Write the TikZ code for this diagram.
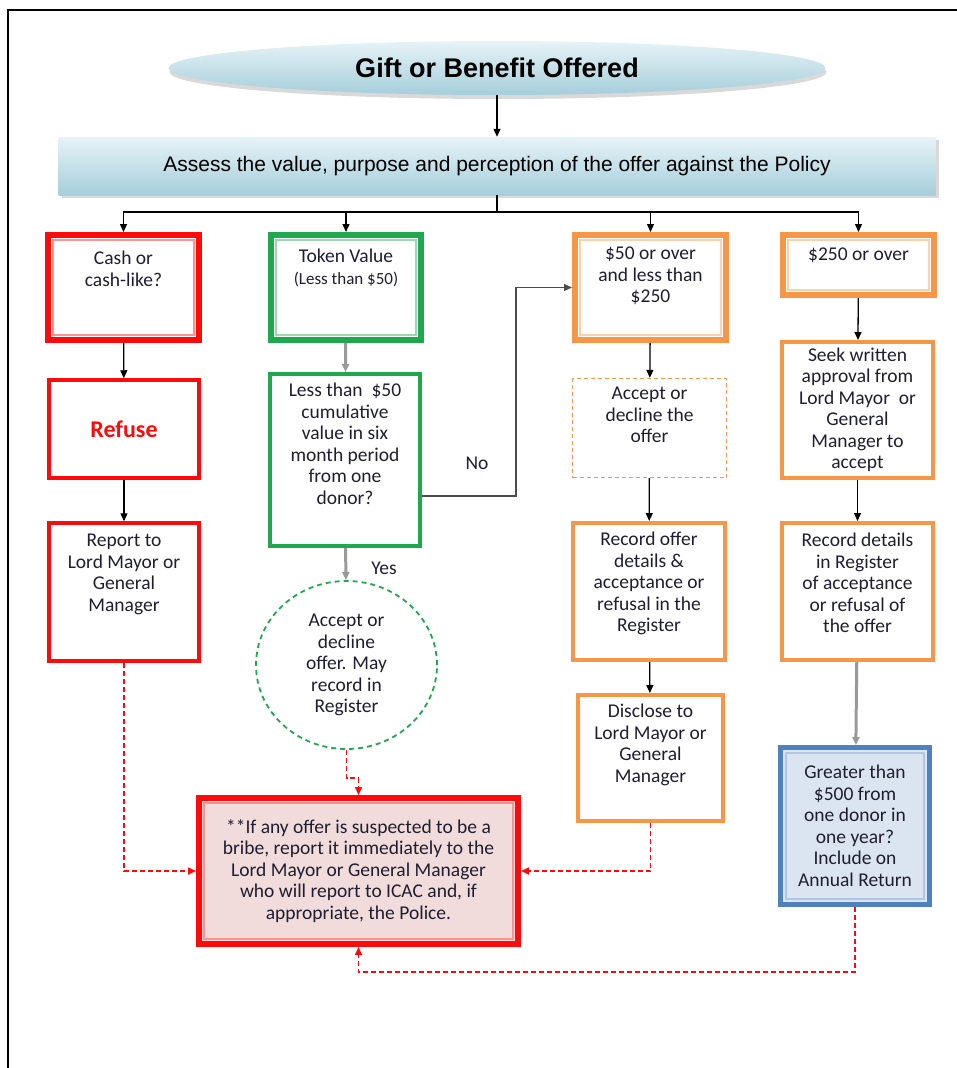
\documentclass[tikz,border=0pt]{standalone}
\usepackage{fontspec}
\setmainfont{Carlito}
\newfontfamily\arialfont{Liberation Sans}
\usetikzlibrary{arrows.meta,shapes.geometric,shadows}
\definecolor{boxred}{HTML}{FF0A0A}
\definecolor{boxgreen}{HTML}{1FA84E}
\definecolor{boxorange}{HTML}{F79646}
\definecolor{boxblue}{HTML}{4F81BD}
\definecolor{fillblue}{HTML}{DBE5F1}
\definecolor{fillpink}{HTML}{F2DCDB}
\definecolor{skytop}{HTML}{E6F3F7}
\definecolor{skybot}{HTML}{A6CEDB}
\definecolor{ink}{HTML}{1E1E30}
\tikzset{
  boxtext/.style={align=center, text=ink, font=\fontsize{19.5}{21.5}\selectfont, inner sep=0pt},
  box/.style={draw=#1, rectangle, line width=4pt, boxtext, inner sep=4pt},
  conn/.style={-{Triangle[length=8pt,width=7pt]}, line width=1.3pt, black},
  grayconn/.style={conn, draw=black!40, line width=3pt},
  dasharr/.style={-{Triangle[length=8pt,width=7pt]}, draw=boxred, line width=1.6pt,
    dash pattern=on 5pt off 3pt},
}
\begin{document}
\begin{tikzpicture}[x=1pt, y=-1pt]
    \useasboundingbox (0,0) rectangle (957,1068);
    \draw[line width=2.5pt] (8,1068) -- (8,10) -- (957,10);

    % top of the chart
    \node[ellipse, minimum width=657pt, minimum height=54pt, top color=skytop, bottom color=skybot,
      drop shadow={shadow xshift=1pt, shadow yshift=-4pt, opacity=0.3},
      font=\arialfont\bfseries\fontsize{27}{30}\selectfont] (gift) at (497,68) {Gift or Benefit Offered};
    \node[rectangle, minimum width=877pt, minimum height=58pt, top color=skytop, bottom color=skybot,
      drop shadow={shadow xshift=3pt, shadow yshift=-3pt, opacity=0.3},
      font=\arialfont\fontsize{21}{24}\selectfont] (assess) at (497,166)
      {Assess the value, purpose and perception of the offer against the Policy};
    \coordinate (split) at (497,212);

    % cash column
    \node[box=boxred, line width=6pt, minimum width=151pt, minimum height=105pt,
      label={[boxtext, anchor=north, yshift=-19pt]north:{Cash or\\cash-like?}}] (cash) at (123.5,287.5) {};
    \node[box=boxred, line width=3.5pt, minimum width=150pt, minimum height=98pt,
      font=\bfseries\fontsize{24}{26}\selectfont, text=boxred] (refuse) at (124,429) {Refuse};
    \node[box=boxred, line width=3.5pt, minimum width=150pt, minimum height=138pt,
      label={[boxtext, anchor=north, yshift=-13pt]north:{Report to\\Lord Mayor or\\General\\Manager}}] (report) at (124,592) {};

    % token column
    \node[box=boxgreen, line width=6pt, minimum width=150pt, minimum height=105pt,
      label={[boxtext, anchor=north, yshift=-17pt]north:{Token Value\\{\fontsize{17}{20}\selectfont(Less than \$50)}}}] (token) at (346,287.5) {};
    \node[box=boxgreen, minimum width=150pt, minimum height=172pt,
      label={[boxtext, anchor=north, yshift=-11pt]north:{Less than\ \ \$50\\cumulative\\value in six\\month period\\from one\\donor?}}] (less) at (345,460) {};
    \node[ellipse, draw=boxgreen, dashed, line width=1.8pt, dash pattern=on 5pt off 4pt,
      minimum width=181pt, minimum height=168pt, boxtext] (circ) at (346.5,665)
      {Accept or\\decline\\offer. May\\record in\\Register};

    % 50 to 250 column
    \node[box=boxorange, line width=6pt, minimum width=151pt, minimum height=105pt,
      label={[boxtext, anchor=north, yshift=-15pt]north:{\$50 or over\\and less than\\\$250}}] (fifty) at (650.5,287.5) {};
    \node[box=boxorange, line width=1.3pt, dash pattern=on 4pt off 3pt, minimum width=154pt, minimum height=99pt,
      label={[boxtext, anchor=north, yshift=-9pt]north:{Accept or\\decline the\\offer}}] (accept) at (649.5,428) {};
    \node[box=boxorange, minimum width=152pt, minimum height=137pt,
      label={[boxtext, anchor=north, yshift=-11pt]north:{Record offer\\details \&\\acceptance or\\refusal in the\\Register}}] (recoff) at (649,591.5) {};
    \node[box=boxorange, minimum width=145pt, minimum height=126pt,
      label={[boxtext, anchor=north, yshift=-11pt]north:{Disclose to\\Lord Mayor or\\General\\Manager}}] (disclose) at (650.5,758) {};

    % 250 and over column
    \node[box=boxorange, line width=6pt, minimum width=151pt, minimum height=60pt,
      label={[boxtext, anchor=north, yshift=-16pt]north:{\$250 or over}}] (twofifty) at (858.5,265) {};
    \node[box=boxorange, minimum width=151pt, minimum height=136pt] (seek) at (857.5,410)
      {Seek written\\approval from\\Lord Mayor\ \ or\\General\\Manager to\\accept};
    \node[box=boxorange, minimum width=151pt, minimum height=137pt,
      label={[boxtext, anchor=north, yshift=-12pt]north:{Record details\\in Register\\of acceptance\\or refusal of\\the offer}}] (recdet) at (857.5,591.5) {};
    \node[box=boxblue, line width=5pt, fill=fillblue, minimum width=149pt, minimum height=157pt] (greater) at (855,826)
      {Greater than\\\$500 from\\one donor in\\one year?\\Include on\\Annual Return};

    % bribe box
    \node[box=boxred, line width=6pt, fill=fillpink, minimum width=319pt, minimum height=146pt] (bribe) at (358.5,871)
      {**If any offer is suspected to be a\\bribe, report it immediately to the\\Lord Mayor or General Manager\\who will report to ICAC and, if\\appropriate, the Police.};

    % inner lines of the double boxes
    \foreach \n/\c in {cash/boxred, token/boxgreen, fifty/boxorange, twofifty/boxorange, greater/boxblue, bribe/boxred}
      \draw[\c!45, line width=1.8pt] ([shift={(8pt,-8pt)}]\n.north west) rectangle ([shift={(-8pt,8pt)}]\n.south east);

    % connectors
    \draw[conn] (gift) -- (assess);
    \draw[line width=2pt] (assess.south) -- (split);
    \foreach \n in {cash,token,fifty,twofifty}
      \draw[conn] (split) -| (\n.north);
    \draw[conn] (cash) -- (refuse);
    \draw[conn] (refuse) -- (report);
    \draw[grayconn] (token) -- (less);
    \draw[grayconn] (less) -- (circ);
    \node[boxtext] (yes) at (384,568) {Yes};
    \coordinate (nobend) at (516,496);
    \draw[conn, draw=black!70] (less.east |- nobend) -- (nobend) |- (fifty.west);
    \node[boxtext] (no) at (477,463) {No};
    \draw[conn] (fifty) -- (accept);
    \draw[conn] (accept) -- (recoff);
    \draw[conn] (recoff) -- (disclose);
    \draw[conn] (twofifty) -- (seek);
    \draw[conn] (seek) -- (recdet);
    \draw[grayconn] (recdet) -- (greater);

    % dashed report lines
    \coordinate (jog) at (346.5,778);
    \coordinate (back) at (855,972);
    \draw[dasharr] (report.south) |- (bribe.west);
    \draw[dasharr] (circ.south) -- (jog) -| (bribe.north);
    \draw[dasharr] (disclose.south) |- (bribe.east);
    \draw[dasharr] (greater.south) -- (back) -| (bribe.south);
\end{tikzpicture}
\end{document}
